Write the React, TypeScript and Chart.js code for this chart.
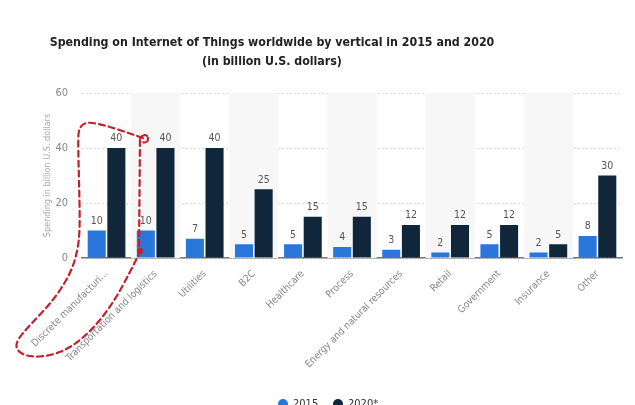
import React, { useEffect, useRef } from "react";
import { Chart, registerables } from "chart.js";

Chart.register(...registerables);

const categories = [
  "Discrete manufacturi...",
  "Transportation and logistics",
  "Utilities",
  "B2C",
  "Healthcare",
  "Process",
  "Energy and natural resources",
  "Retail",
  "Government",
  "Insurance",
  "Other",
];
const values2015 = [10, 10, 7, 5, 5, 4, 3, 2, 5, 2, 8];
const values2020 = [40, 40, 40, 25, 15, 15, 12, 12, 12, 5, 30];
const yTicks = [0, 20, 40, 60];
const seriesNames = ["2015", "2020*"];
const seriesColors = ["#2a77db", "#10263b"];
const titleLines = [
  "Spending on Internet of Things worldwide by vertical in 2015 and 2020",
  "(in billion U.S. dollars)",
];

const FONT = "'DejaVu Sans Condensed', 'DejaVu Sans', sans-serif";

const bandPlugin = {
  id: "bands",
  beforeDatasetsDraw(chart: any) {
    const { ctx, chartArea, scales } = chart;
    const x = scales.x;
    const w = x.getPixelForValue(1) - x.getPixelForValue(0);
    ctx.save();
    ctx.fillStyle = "#f7f7f8";
    for (let i = 1; i < categories.length; i += 2) {
      const c = x.getPixelForValue(i);
      ctx.fillRect(c - w / 2, chartArea.top, w, chartArea.bottom - chartArea.top);
    }
    ctx.restore();
  },
};

const labelPlugin = {
  id: "valueLabels",
  afterDatasetsDraw(chart: any) {
    const { ctx } = chart;
    ctx.save();
    ctx.font = `10.5px ${FONT}`;
    ctx.fillStyle = "#555";
    ctx.textAlign = "center";
    ctx.textBaseline = "bottom";
    chart.data.datasets.forEach((ds: any, di: number) => {
      const meta = chart.getDatasetMeta(di);
      meta.data.forEach((bar: any, i: number) => {
        ctx.fillText(String(ds.data[i]), bar.x, bar.y - 4);
      });
    });
    ctx.restore();
  },
};

const titleLegendPlugin = {
  id: "titleLegend",
  afterDraw(chart: any) {
    const { ctx } = chart;
    ctx.save();
    // title
    ctx.font = `bold 12.3px ${FONT}`;
    ctx.fillStyle = "#222";
    ctx.textAlign = "center";
    ctx.textBaseline = "middle";
    titleLines.forEach((t, i) => ctx.fillText(t, 272, 43 + i * 19));
    // legend
    ctx.font = `11px ${FONT}`;
    ctx.textAlign = "left";
    const items = [
      { x: 283, name: seriesNames[0], color: seriesColors[0] },
      { x: 338, name: seriesNames[1], color: seriesColors[1] },
    ];
    items.forEach((it) => {
      ctx.fillStyle = it.color;
      ctx.beginPath();
      ctx.arc(it.x, 404, 5, 0, Math.PI * 2);
      ctx.fill();
      ctx.fillStyle = "#333";
      ctx.fillText(it.name, it.x + 10, 404);
    });
    ctx.restore();
  },
};

const scribblePlugin = {
  id: "scribble",
  afterDraw(chart: any) {
    const { ctx } = chart;
    ctx.save();
    ctx.strokeStyle = "#c4202c";
    ctx.lineWidth = 2.2;
    ctx.setLineDash([6, 4]);
    ctx.lineCap = "round";
    const loop = [
      [143, 138], [120, 130], [100, 124], [86, 122], [79, 128], [78, 140],
      [79, 180], [80, 225], [78, 250], [70, 275], [52, 302], [30, 325],
      [17, 340], [16, 350], [28, 357], [50, 356], [72, 347], [95, 327],
      [115, 300], [130, 272], [140, 252],
    ];
    ctx.beginPath();
    ctx.moveTo(loop[0][0], loop[0][1]);
    for (let i = 1; i < loop.length - 1; i++) {
      const mx = (loop[i][0] + loop[i + 1][0]) / 2;
      const my = (loop[i][1] + loop[i + 1][1]) / 2;
      ctx.quadraticCurveTo(loop[i][0], loop[i][1], mx, my);
    }
    ctx.lineTo(loop[loop.length - 1][0], loop[loop.length - 1][1]);
    ctx.stroke();
    ctx.beginPath();
    ctx.moveTo(140, 140);
    ctx.lineTo(139, 250);
    ctx.stroke();
    ctx.setLineDash([3, 2]);
    ctx.beginPath();
    ctx.moveTo(140, 138);
    ctx.quadraticCurveTo(146, 132, 148, 138);
    ctx.quadraticCurveTo(148, 144, 142, 142);
    ctx.stroke();
    ctx.setLineDash([]);
    ctx.fillStyle = "#c4202c";
    ctx.beginPath();
    ctx.arc(140, 251, 3, 0, Math.PI * 2);
    ctx.fill();
    ctx.restore();
  },
};

export default function App() {
  const ref = useRef<HTMLCanvasElement>(null);
  useEffect(() => {
    if (!ref.current) return;
    const chart = new Chart(ref.current, {
      type: "bar",
      data: {
        labels: categories,
        datasets: [
          {
            label: seriesNames[0],
            data: values2015,
            backgroundColor: seriesColors[0],
            barPercentage: 0.92,
            categoryPercentage: 0.8,
          },
          {
            label: seriesNames[1],
            data: values2020,
            backgroundColor: seriesColors[1],
            barPercentage: 0.92,
            categoryPercentage: 0.8,
          },
        ],
      },
      options: {
        animation: false,
        responsive: false,
        maintainAspectRatio: false,
        layout: { padding: { left: 0, right: 13, top: 93, bottom: 22 } },
        plugins: {
          title: { display: false },
          legend: { display: false },
          tooltip: { enabled: false },
        },
        scales: {
          x: {
            grid: { display: false },
            border: { display: true, color: "#777", width: 1.5 },
            ticks: {
              color: "#888",
              font: { family: FONT, size: 10 },
              minRotation: 45,
              maxRotation: 45,
              autoSkip: false,
              padding: 2,
            },
            afterFit(scale: any) {
              scale.height = 125;
            },
          },
          y: {
            min: 0,
            max: 60,
            afterBuildTicks(scale: any) {
              scale.ticks = yTicks.map((v) => ({ value: v }));
            },
            grid: { color: "#dcdcdc", drawTicks: false },
            border: { display: false, dash: [2, 2] },
            ticks: {
              color: "#888",
              font: { family: FONT, size: 11 },
              padding: 14,
            },
            title: {
              display: true,
              text: "Spending in billion U.S. dollars",
              color: "#aaa",
              font: { family: FONT, size: 9 },
              padding: { top: 42, bottom: 0 },
            },
            afterFit(scale: any) {
              scale.width = 82;
            },
          },
        },
      },
      plugins: [bandPlugin, labelPlugin, titleLegendPlugin, scribblePlugin],
    });
    return () => chart.destroy();
  }, []);
  return (
    <div style={{ position: "absolute", left: 0, top: 0, width: 635, height: 405 }}>
      <canvas ref={ref} width={635} height={405} style={{ display: "block" }} />
    </div>
  );
}
